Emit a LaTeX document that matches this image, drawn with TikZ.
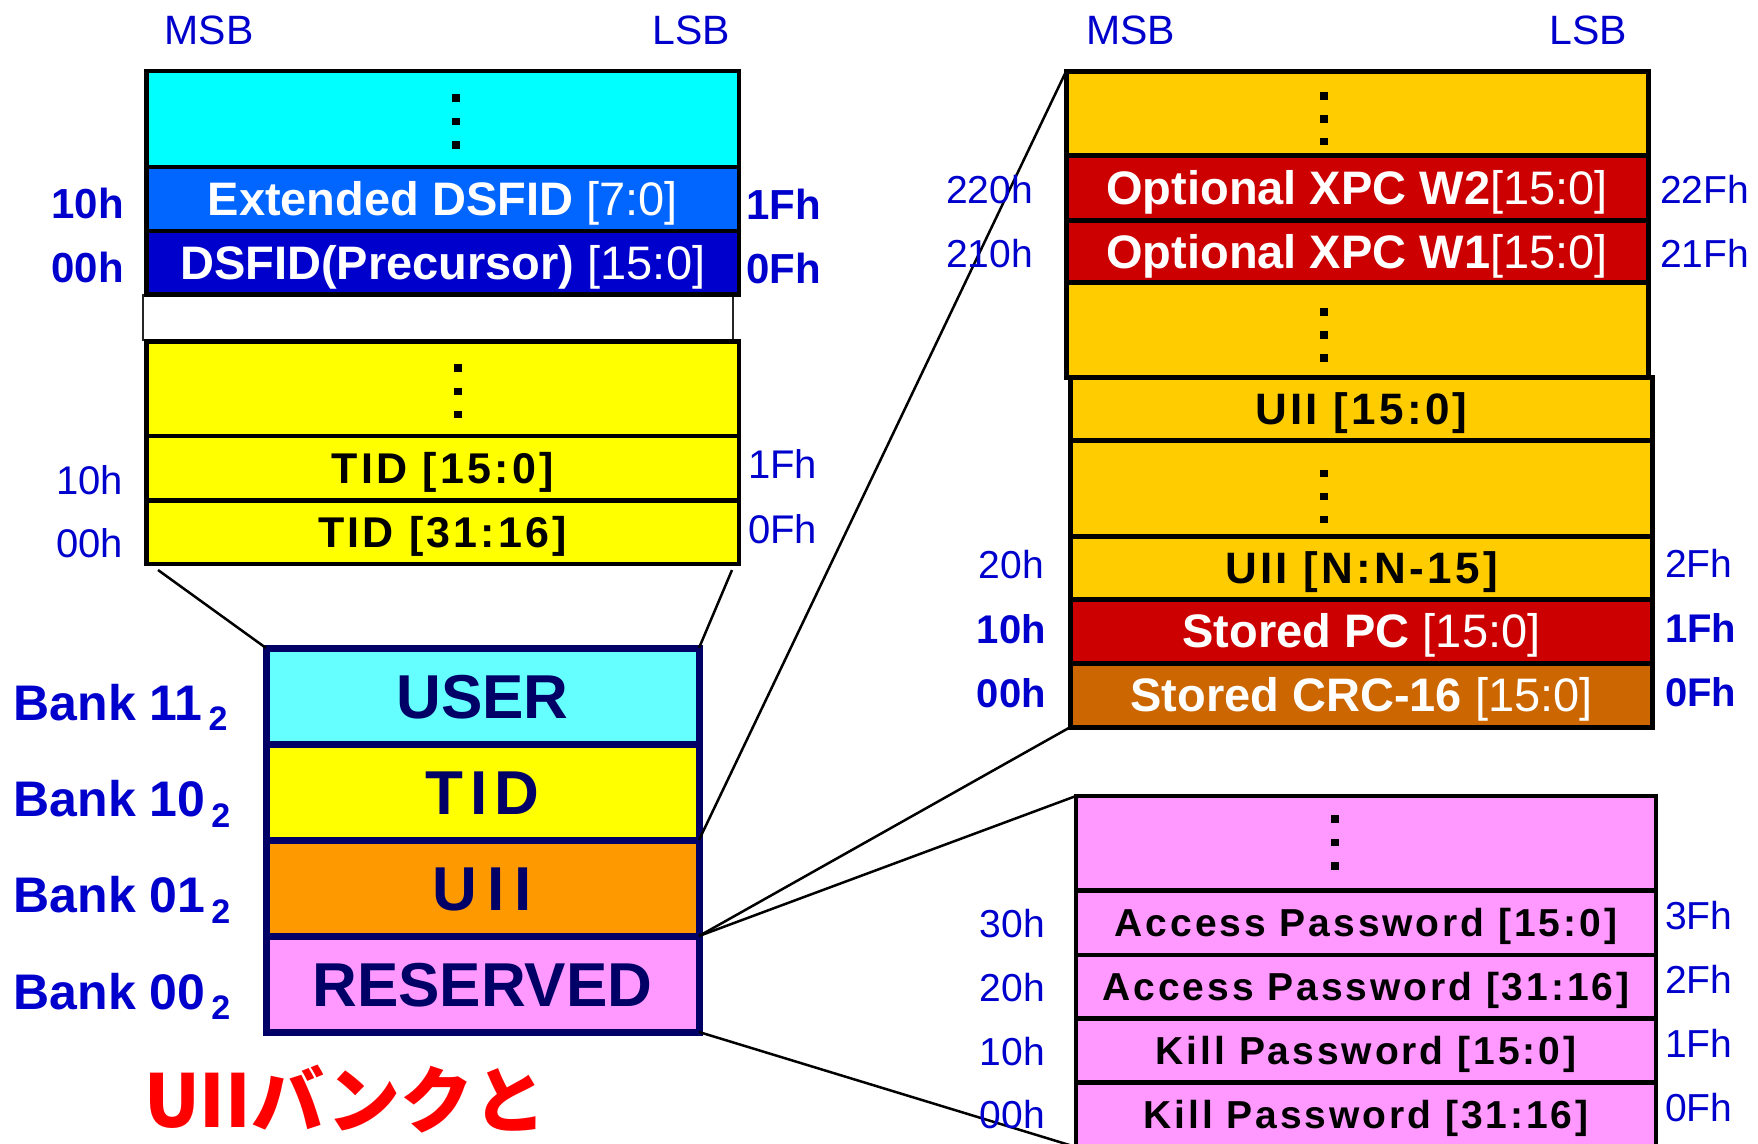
\documentclass[tikz,border=0pt]{standalone}
\usepackage{fontspec}
\setmainfont{Liberation Sans}
\newfontfamily\jpfont{Noto Sans CJK JP}

\definecolor{cyanA}{HTML}{00FFFF}
\definecolor{dsfidA}{HTML}{0066FF}
\definecolor{dsfidB}{HTML}{0000CC}
\definecolor{tidY}{HTML}{FFFF00}
\definecolor{goldG}{HTML}{FFCC00}
\definecolor{xpcR}{HTML}{CC0000}
\definecolor{crcO}{HTML}{CC6600}
\definecolor{pinkP}{HTML}{FF99FF}
\definecolor{userC}{HTML}{66FFFF}
\definecolor{uiiO}{HTML}{FF9900}
\definecolor{navyN}{HTML}{000066}
\definecolor{addrblue}{HTML}{0000CC}
\definecolor{jpred}{HTML}{FF0000}

% three small squares standing for omitted words
\newcommand\memdots[3]{%
  \foreach \k in {0,1,2}{\fill[black] (#1-3.75,#2-3.75+\k*#3) rectangle ++(7.5,7.5);}}
\newcommand\banksub[1]{\kern6pt\raisebox{-10.7pt}{\fontsize{34}{34}\selectfont #1}}

\tikzset{
  cell/.style={draw=black, line width=4.5pt, rectangle, anchor=north west,
    outer sep=0pt, inner sep=0pt},
  wtext/.style={text=white, font=\fontsize{47}{47}\selectfont,
    text height=33.6pt, text depth=0pt},
  btext/.style={text=black, font=\fontsize{#1}{#1}\selectfont\bfseries\addfontfeatures{LetterSpace=7.5},
    text height=0.716*#1, text depth=0pt},
  bankcell/.style={draw=navyN, line width=7pt, rectangle, anchor=north west,
    outer sep=0pt, inner sep=0pt, minimum width=433pt, minimum height=96pt,
    text=navyN, font=\fontsize{62}{62}\selectfont\bfseries,
    text height=44.4pt, text depth=0pt},
  gapbox/.style={draw=black!85, line width=1.8pt, fill=white, rectangle,
    anchor=north west, outer sep=0pt, inner sep=0pt},
  addr/.style={text=addrblue, inner sep=0pt, font=\fontsize{#1}{#1}\selectfont},
  addrb/.style={text=addrblue, inner sep=0pt, font=\fontsize{#1}{#1}\selectfont\bfseries},
  banklabel/.style={text=addrblue, inner sep=0pt, anchor=base west,
    font=\fontsize{50}{50}\selectfont\bfseries},
  link/.style={draw=black, line width=2.5pt},
}

\begin{document}
\begin{tikzpicture}[x=1pt,y=-1pt]
\useasboundingbox (0,0) rectangle (1758,1143);
\clip (0,0) rectangle (1758,1143);

% ---------- USER bank (top left) ----------
\node[gapbox, minimum width=590pt, minimum height=45.5pt] (gap) at (143,294.5) {};
\node[cell, fill=cyanA, minimum width=592.5pt, minimum height=96pt] (uDots) at (146.5,71) {};
\node[cell, fill=dsfidA, wtext, minimum width=592.5pt, minimum height=64pt] (uExt) at (146.5,167) {\textbf{Extended DSFID} [7:0]};
\node[cell, fill=dsfidB, wtext, minimum width=592.5pt, minimum height=63.5pt] (uPre) at (146.5,231) {\textbf{DSFID(Precursor)} [15:0]};
\memdots{456}{98}{23.5}

% ---------- TID bank ----------
\node[cell, fill=tidY, minimum width=592.5pt, minimum height=94.5pt] (tDots) at (146.5,341.5) {};
\node[cell, fill=tidY, btext=43, minimum width=592.5pt, minimum height=64.6pt] (tid15) at (146.5,436) {TID [15:0]};
\node[cell, fill=tidY, btext=43, minimum width=592.5pt, minimum height=63.4pt] (tid31) at (146.5,500.6) {TID [31:16]};
\memdots{458}{368}{23.3}

% ---------- UII bank (top right) ----------
\node[cell, line width=5pt, fill=goldG, minimum width=582pt, minimum height=83.5pt] (gDots1) at (1066,71.5) {};
\node[cell, line width=5pt, fill=xpcR, wtext, minimum width=582pt, minimum height=65pt] (xpc2) at (1066,155) {\textbf{Optional XPC W2}[15:0]};
\node[cell, line width=5pt, fill=xpcR, wtext, minimum width=582pt, minimum height=62.7pt] (xpc1) at (1066,220) {\textbf{Optional XPC W1}[15:0]};
\node[cell, line width=5pt, fill=goldG, minimum width=582pt, minimum height=94.3pt] (gDots2) at (1066,282.7) {};
\node[cell, line width=5pt, fill=goldG, btext=44, minimum width=582pt, minimum height=63pt] (uii15) at (1070.5,377) {UII [15:0]};
\node[cell, line width=5pt, fill=goldG, minimum width=582pt, minimum height=96.5pt] (gDots3) at (1070.5,440) {};
\node[cell, line width=5pt, fill=goldG, btext=44, minimum width=582pt, minimum height=62.5pt] (uiiN) at (1070.5,536.5) {UII [N:N-15]};
\node[cell, line width=5pt, fill=xpcR, wtext, minimum width=582pt, minimum height=64pt] (spc) at (1070.5,599) {\textbf{Stored PC} [15:0]};
\node[cell, line width=5pt, fill=crcO, wtext, minimum width=582pt, minimum height=64pt] (crc) at (1070.5,663) {\textbf{Stored CRC-16} [15:0]};
\memdots{1324}{96}{22.8}
\memdots{1324}{312}{23}
\memdots{1324}{473.7}{23}

% ---------- RESERVED bank (bottom right) ----------
\node[cell, fill=pinkP, minimum width=580pt, minimum height=94.5pt] (pDots) at (1076,796) {};
\node[cell, fill=pinkP, btext=39, minimum width=580pt, minimum height=64.5pt] (ap15) at (1076,890.5) {Access Password [15:0]};
\node[cell, fill=pinkP, btext=39, minimum width=580pt, minimum height=63.7pt] (ap31) at (1076,955) {Access Password [31:16]};
\node[cell, fill=pinkP, btext=39, minimum width=580pt, minimum height=63.9pt] (kp15) at (1076,1018.7) {Kill Password [15:0]};
\node[cell, fill=pinkP, btext=39, minimum width=580pt, minimum height=64.4pt] (kp31) at (1076,1082.6) {Kill Password [31:16]};
\memdots{1335}{819}{23.5}

% ---------- memory banks ----------
\node[bankcell, fill=userC] (bUser) at (266,648) {USER};
\node[bankcell, fill=tidY] (bTid) at (266,744) {\addfontfeatures{LetterSpace=11}TID};
\node[bankcell, fill=uiiO] (bUii) at (266,840) {\addfontfeatures{LetterSpace=16}UII};
\node[bankcell, fill=pinkP] (bRes) at (266,936) {RESERVED};

\node[banklabel] (l11) at (13.4,720) {Bank 11\banksub{2}};
\node[banklabel] (l10) at (13.4,816.6) {Bank 10\banksub{2}};
\node[banklabel] (l01) at (13.4,912.3) {Bank 01\banksub{2}};
\node[banklabel] (l00) at (13.4,1009) {Bank 00\banksub{2}};

% ---------- expansion lines ----------
\coordinate (tA) at (158,570);
\coordinate (tB) at (732,570);
\draw[link] (tA) -- (bUser.north west);
\draw[link] (tB) -- (bUser.north east);
\draw[link] (gDots1.north west) -- (bUii.north east);
\draw[link] (crc.south west) -- (bRes.north east);
\draw[link] (pDots.north west) -- (bRes.north east);
\draw[link] (bRes.south east) -- (kp31.south west);

% ---------- bit order headers ----------
\node[addr=41, anchor=base west] (msbL) at (164.6,44.8) {MSB};
\node[addr=41, anchor=base east] (lsbL) at (730,44.8) {LSB};
\node[addr=41, anchor=base west] (msbR) at (1086,44.5) {MSB};
\node[addr=41, anchor=base east] (lsbR) at (1627,44.5) {LSB};

% ---------- word addresses ----------
\node[addrb=42, anchor=base east] (a10L) at (124,218) {10h};
\node[addrb=42, anchor=base east] (a00L) at (124,282) {00h};
\node[addrb=42, anchor=base west] (a1FL) at (746,219) {1Fh};
\node[addrb=42, anchor=base west] (a0FL) at (746,283) {0Fh};
\node[addr=40, anchor=base east] (t10) at (123,494) {10h};
\node[addr=40, anchor=base east] (t00) at (123,557) {00h};
\node[addr=40, anchor=base west] (t1F) at (748,478) {1Fh};
\node[addr=40, anchor=base west] (t0F) at (748,543) {0Fh};

\node[addr=39, anchor=base east] (g220) at (1033,203) {220h};
\node[addr=39, anchor=base east] (g210) at (1033,267) {210h};
\node[addr=39, anchor=base west] (g22F) at (1660,203) {22Fh};
\node[addr=39, anchor=base west] (g21F) at (1660,267) {21Fh};
\node[addr=39, anchor=base east] (g20) at (1044,578) {20h};
\node[addr=39, anchor=base west] (g2F) at (1665,577.6) {2Fh};
\node[addrb=40, anchor=base east] (g10) at (1046,643) {10h};
\node[addrb=40, anchor=base east] (g00) at (1046,707) {00h};
\node[addrb=40, anchor=base west] (g1F) at (1665,642) {1Fh};
\node[addrb=40, anchor=base west] (g0F) at (1665,706) {0Fh};

\node[addr=39, anchor=base east] (p30) at (1045,937) {30h};
\node[addr=39, anchor=base east] (p20) at (1045,1001.5) {20h};
\node[addr=39, anchor=base east] (p10) at (1045,1065) {10h};
\node[addr=39, anchor=base east] (p00) at (1045,1128.5) {00h};
\node[addr=39, anchor=base west] (p3F) at (1665,929) {3Fh};
\node[addr=39, anchor=base west] (p2F) at (1665,993.4) {2Fh};
\node[addr=39, anchor=base west] (p1F) at (1665,1057.7) {1Fh};
\node[addr=39, anchor=base west] (p0F) at (1665,1121) {0Fh};

% ---------- caption ----------
\node[anchor=base west, inner sep=0pt, text=jpred,
  font=\jpfont\bfseries\fontsize{73}{73}\selectfont] (cap) at (144,1127) {UIIバンクと};
\end{tikzpicture}
\end{document}
